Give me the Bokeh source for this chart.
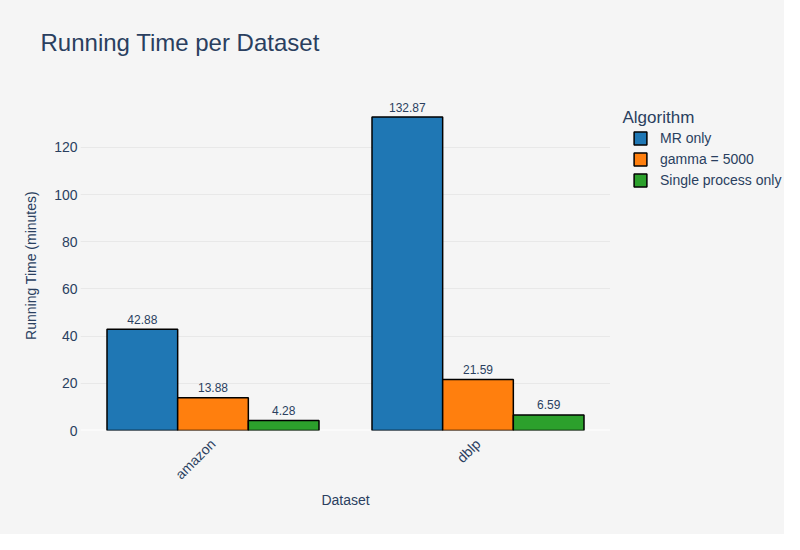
import math
from bokeh.plotting import figure
from bokeh.layouts import row
from bokeh.models import (ColumnDataSource, FactorRange, Range1d, LabelSet, Label,
                          Legend, LegendItem, Span, FixedTicker, Title)
from bokeh.transform import dodge
from bokeh.core.properties import value
from bokeh.embed import file_html
from bokeh.resources import INLINE

# ---- data ----
datasets = ["amazon", "dblp"]
series_names = ["MR only", "gamma = 5000", "Single process only"]
mr_only = [42.88, 132.87]
gamma_5000 = [13.88, 21.59]
single_process = [4.28, 6.59]
colors = ["#1f77b4", "#ff7f0e", "#2ca02c"]
y_ticks = [0, 20, 40, 60, 80, 100, 120]

FONT = "Liberation Sans"
TXT = "#2a3f5f"
BG = "#f5f5f5"

p = figure(width=610, height=534, x_range=FactorRange(*datasets),
           y_range=Range1d(0, 139.9), output_backend="svg", toolbar_location=None,
           min_border_left=80, min_border_right=0, min_border_top=100,
           min_border_bottom=104)
p.background_fill_color = BG
p.border_fill_color = BG
p.outline_line_color = None

# spacer title (blank) nearest the frame, then the real title above it
p.add_layout(Title(text=" ", text_font_size="24px", text_font=FONT, standoff=16), "above")
p.add_layout(Title(text="Running Time per Dataset", text_font_size="24px", text_font=FONT,
                   text_color=TXT, text_font_style="normal", align="left", offset=-40,
                   standoff=0), "above")

src = ColumnDataSource(dict(
    ds=datasets,
    s0=mr_only, s1=gamma_5000, s2=single_process,
    t0=[f"{v:.2f}" for v in mr_only],
    t1=[f"{v:.2f}" for v in gamma_5000],
    t2=[f"{v:.2f}" for v in single_process],
))

bw = 0.8 / 3
offsets = [-bw, 0.0, bw]
for i, name in enumerate(series_names):
    p.vbar(x=dodge("ds", offsets[i], range=p.x_range), top=f"s{i}", width=bw,
           source=src, fill_color=colors[i], line_color="black", line_width=1.5)
    lbl = LabelSet(x=dodge("ds", offsets[i], range=p.x_range), y=f"s{i}", text=f"t{i}",
                   source=src, text_align="center", text_baseline="middle", y_offset=10,
                   text_font_size=value("12px"), text_color=value(TXT), text_font=value(FONT))
    p.add_layout(lbl)

zero = Span(location=0, dimension="width", line_color="white", line_width=2, level="underlay")
p.add_layout(zero)

# axes
p.yaxis.ticker = FixedTicker(ticks=y_ticks)
p.yaxis.axis_line_color = None
p.yaxis.major_tick_line_color = None
p.yaxis.minor_tick_line_color = None
p.yaxis.major_tick_out = 0
p.yaxis.minor_tick_out = 0
p.yaxis.major_label_standoff = 3
p.yaxis.major_label_text_font_size = "14px"
p.yaxis.major_label_text_color = TXT
p.yaxis.major_label_text_font = FONT
p.yaxis.axis_label = "Running Time (minutes)"
p.yaxis.axis_label_text_font_size = "14px"
p.yaxis.axis_label_text_font_style = "normal"
p.yaxis.axis_label_text_color = TXT
p.yaxis.axis_label_text_font = FONT
p.yaxis.axis_label_standoff = 12

p.xaxis.axis_line_color = None
p.xaxis.major_tick_line_color = None
p.xaxis.minor_tick_line_color = None
p.xaxis.major_tick_out = 0
p.xaxis.major_label_orientation = math.pi / 4
p.xaxis.major_label_standoff = 11
p.xaxis.major_label_text_font_size = "14px"
p.xaxis.major_label_text_color = TXT
p.xaxis.major_label_text_font = FONT
p.xaxis.axis_label = "Dataset"
p.xaxis.axis_label_text_font_size = "14px"
p.xaxis.axis_label_text_font_style = "normal"
p.xaxis.axis_label_text_color = TXT
p.xaxis.axis_label_text_font = FONT
p.xaxis.axis_label_standoff = 1

p.xgrid.grid_line_color = None
p.ygrid.grid_line_color = "#e8e8e8"
p.ygrid.grid_line_width = 1

# ---- legend panel (same series as hidden renderers; only legend swatches show) ----
p2 = figure(width=174, height=534, x_range=FactorRange(*datasets),
            y_range=Range1d(0, 139.9), output_backend="svg", toolbar_location=None,
            min_border_left=0, min_border_right=0, min_border_top=0, min_border_bottom=0)
p2.background_fill_color = BG
p2.border_fill_color = BG
p2.outline_line_color = None
p2.axis.visible = False
p2.grid.grid_line_color = None

leg_renderers = []
for i, name in enumerate(series_names):
    r = p2.vbar(x=dodge("ds", offsets[i], range=p2.x_range), top=f"s{i}", width=bw,
                source=src, fill_color=colors[i], line_color="black", line_width=1.5,
                visible=False)
    leg_renderers.append(r)

# frame of p2 is aligned with the main frame (bottom at y=430, top at y=100)
p2.add_layout(Label(x=12, y=313, x_units="screen", y_units="screen",
                    text="Algorithm", text_font_size="17px",
                    text_color=TXT, text_font=FONT, text_baseline="middle"))
legend = Legend(items=[LegendItem(label=n, renderers=[r]) for n, r in zip(series_names, leg_renderers)],
                location=(22, 242), padding=0, margin=0, spacing=5,
                glyph_width=16, glyph_height=16, label_height=16, label_standoff=12,
                label_text_font_size="14px", label_text_color=TXT, label_text_font=FONT,
                background_fill_alpha=0, border_line_color=None,
                inactive_fill_alpha=0)
p2.add_layout(legend)

layout = row(p, p2, spacing=0)
layout.styles = {"background-color": BG}
open("out.html", "w").write(file_html(layout, INLINE))
